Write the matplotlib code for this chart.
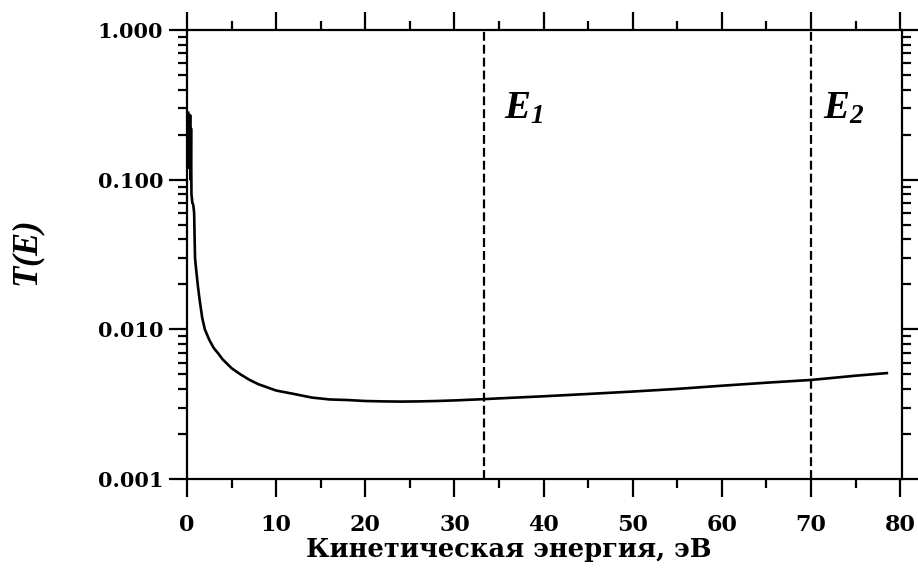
import matplotlib
matplotlib.use("Agg")
import matplotlib.pyplot as plt
from matplotlib.ticker import MultipleLocator, FixedLocator, LogLocator, NullFormatter, FormatStrFormatter

plt.rcParams['font.family'] = ['DejaVu Serif']
plt.rcParams['mathtext.fontset'] = 'custom'
plt.rcParams['mathtext.it'] = 'Liberation Serif:bold:italic'
plt.rcParams['mathtext.rm'] = 'Liberation Serif:bold:italic'
plt.rcParams['mathtext.bf'] = 'Liberation Serif:bold:italic'

energy = [0.15, 0.2, 0.25, 0.3, 0.35, 0.4, 0.45, 0.5, 0.55, 0.6, 0.7, 0.8, 0.9, 1.0,
          1.2, 1.4, 1.7, 2.0, 2.5, 3.0, 3.5, 4, 5, 6, 7, 8, 10, 12, 14, 16, 18, 20,
          22, 24, 26, 28, 30, 33, 36, 40, 45, 50, 55, 60, 65, 70, 75, 78.5]
transmission = [0.28, 0.12, 0.26, 0.15, 0.27, 0.10, 0.22, 0.08, 0.075, 0.07, 0.068, 0.06,
                0.03, 0.026, 0.02, 0.016, 0.012, 0.010, 0.0085, 0.0075, 0.0069, 0.0063,
                0.0055, 0.0050, 0.0046, 0.0043, 0.0039, 0.0037, 0.0035, 0.0034, 0.00337,
                0.00332, 0.0033, 0.00329, 0.0033, 0.00332, 0.00335, 0.00341, 0.00348,
                0.00357, 0.0037, 0.00384, 0.004, 0.0042, 0.0044, 0.00459, 0.0049, 0.0051]
marker_energies = [33.3, 70.0]
marker_labels = [r'$E_1$', r'$E_2$']
label_x = [35.6, 71.3]
x_ticks = [0, 10, 20, 30, 40, 50, 60, 70, 80]
y_ticks = [0.001, 0.01, 0.1, 1.0]

fig = plt.figure(figsize=(9.18, 5.73), dpi=100)
ax = fig.add_axes([187/918, 1 - 479/573, (902-187)/918, (479-30)/573])

ax.plot(energy, transmission, color='black', lw=1.9)
for e, lx, lab in zip(marker_energies, label_x, marker_labels):
    ax.axvline(e, color='black', lw=1.6, ls=(0, (4, 1.8)))
    ax.text(lx, 0.30, lab, fontsize=28, va='center', ha='left')

ax.set_yscale('log')
ax.set_xlim(0, 80.2)
ax.set_ylim(0.001, 1.0)
ax.xaxis.set_major_locator(FixedLocator(x_ticks))
ax.xaxis.set_minor_locator(MultipleLocator(5))
ax.yaxis.set_major_locator(FixedLocator(y_ticks))
ax.yaxis.set_minor_locator(LogLocator(base=10, subs=range(2, 10)))
ax.yaxis.set_minor_formatter(NullFormatter())
ax.yaxis.set_major_formatter(FormatStrFormatter('%.3f'))

ax.tick_params(which='both', direction='out', top=True, right=True, width=1.6,
               labelright=False, labeltop=False)
ax.tick_params(which='major', length=13)
ax.tick_params(which='minor', length=6.5)
ax.tick_params(axis='x', which='major', labelsize=16, pad=12)
ax.tick_params(axis='y', which='major', labelsize=15, pad=4)
for lab in ax.get_xticklabels() + ax.get_yticklabels():
    lab.set_fontweight('bold')
for s in ax.spines.values():
    s.set_linewidth(1.6)

ax.set_xlabel('Кинетическая энергия, эВ', fontsize=18.5, fontweight='bold', labelpad=0)
ax.xaxis.set_label_coords(0.45, -0.13)
fig.text(29/918, 1 - 254/573, r'$T(E)$', fontsize=25, rotation=90, ha='center', va='center')

fig.savefig('out.png', dpi=100)
